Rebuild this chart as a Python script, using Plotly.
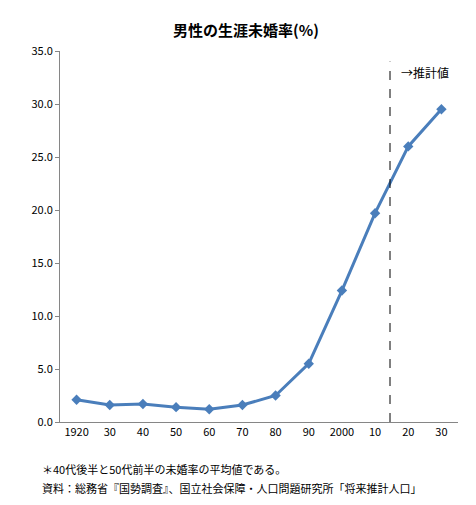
import plotly.graph_objects as go

years = ["1920","30","40","50","60","70","80","90","2000","10","20","30"]
rates = [2.1,1.6,1.7,1.4,1.2,1.6,2.5,5.5,12.4,19.7,26.0,29.5]
yticks = [0,5,10,15,20,25,30,35]

x = list(range(len(years)))
fig = go.Figure(go.Scatter(x=x, y=rates, mode="lines+markers",
    line=dict(color="#4a7ebb", width=3),
    marker=dict(symbol="diamond", size=8, color="#4a7ebb")))
fig.add_shape(type="line", x0=9.45, x1=9.45, y0=0, y1=34, xref="x", yref="y",
    line=dict(color="black", width=1, dash="dash"))
fig.add_annotation(x=10.5, y=33, text="→推計値", showarrow=False,
    font=dict(size=12, color="black"))
fig.update_layout(
    width=476, height=505, plot_bgcolor="white", paper_bgcolor="white",
    margin=dict(l=52, r=26, t=43, b=91), showlegend=False,
    font=dict(family="Noto Sans CJK JP", size=11, color="black"),
    title=dict(text="<b>男性の生涯未婚率(%)</b>", x=0.5, y=0.965, xanchor="center",
               font=dict(size=15)),
    xaxis=dict(tickmode="array", tickvals=x, ticktext=years, range=[-0.5, 11.5],
               showline=True, linecolor="#868686", showgrid=False, zeroline=False,
               ticks=""),
    yaxis=dict(tickmode="array", tickvals=yticks, ticktext=[f"{v:.1f}" for v in yticks],
               range=[0, 35], showline=True, linecolor="#868686", showgrid=False,
               zeroline=False, ticks="outside", ticklen=4, tickcolor="#868686"),
)
fig.add_annotation(xref="paper", yref="paper", x=-0.05, y=-0.1, xanchor="left", yanchor="top",
    showarrow=False, font=dict(size=11), text="＊40代後半と50代前半の未婚率の平均値である。")
fig.add_annotation(xref="paper", yref="paper", x=-0.05, y=-0.15, xanchor="left", yanchor="top",
    showarrow=False, font=dict(size=11),
    text="資料：総務省『国勢調査』、国立社会保障・人口問題研究所「将来推計人口」")
fig.write_html("out.html")
